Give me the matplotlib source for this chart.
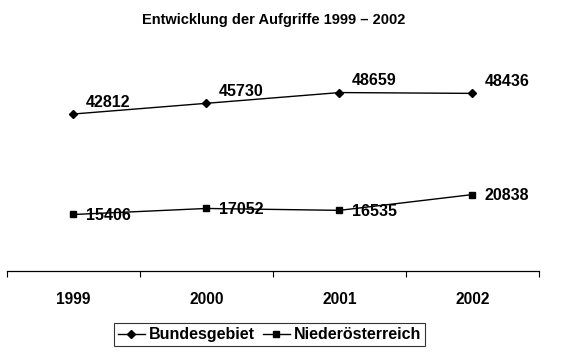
import numpy as np
import matplotlib.pyplot as plt

plt.rcParams['font.family'] = ['Liberation Sans', 'DejaVu Sans']
plt.rcParams['font.weight'] = 'bold'

# ========== Daten ==========
jahre = ['1999', '2000', '2001', '2002']
bundesgebiet = [42812, 45730, 48659, 48436]
niederoesterreich = [15406, 17052, 16535, 20838]

# ========== Graphe ==========
fig = plt.figure(figsize=(5.68, 3.56), dpi=100)
ax = fig.add_axes([0.0123, 0.2388, 0.9366, 0.618])
x = np.arange(len(jahre))

ax.plot(x, bundesgebiet, '-', color='black', lw=1.0, marker='D', ms=4.5,
        label='Bundesgebiet')
ax.plot(x, niederoesterreich, '-', color='black', lw=1.0, marker='s', ms=4.5,
        label='Niederösterreich')

for xi, v in zip(x, bundesgebiet):
    ax.annotate(str(v), (xi, v), xytext=(9, 3), textcoords='offset points',
                ha='left', va='bottom', fontsize=11.5, fontweight='bold')
for xi, v in zip(x, niederoesterreich):
    ax.annotate(str(v), (xi, v), xytext=(9, -1), textcoords='offset points',
                ha='left', va='center', fontsize=11.5, fontweight='bold')

ax.set_xlim(-0.5, len(jahre) - 0.5)
ax.set_ylim(0, 60000)
ax.set_xticks(x)
ax.set_xticklabels(jahre, fontsize=11.2, fontweight='bold')
ax.tick_params(axis='x', length=0, pad=15)
ax.set_xticks(np.arange(len(jahre) + 1) - 0.5, minor=True)
ax.tick_params(axis='x', which='minor', length=4, direction='out', width=0.8)
ax.set_yticks([])
for s in ['top', 'right', 'left']:
    ax.spines[s].set_visible(False)
ax.spines['bottom'].set_linewidth(0.9)

fig.text(0.481, 0.944, 'Entwicklung der Aufgriffe 1999 – 2002', ha='center',
         va='center', fontsize=10.5, fontweight='bold')

leg = fig.legend(loc='center', bbox_to_anchor=(0.4745, 0.060), ncol=2,
                 frameon=True, fancybox=False, edgecolor='black',
                 fontsize=11.5, handlelength=1.7, handletextpad=0.25,
                 columnspacing=0.5, borderpad=0.25, borderaxespad=0)
leg.get_frame().set_linewidth(0.8)

fig.savefig('out.png', dpi=100)
